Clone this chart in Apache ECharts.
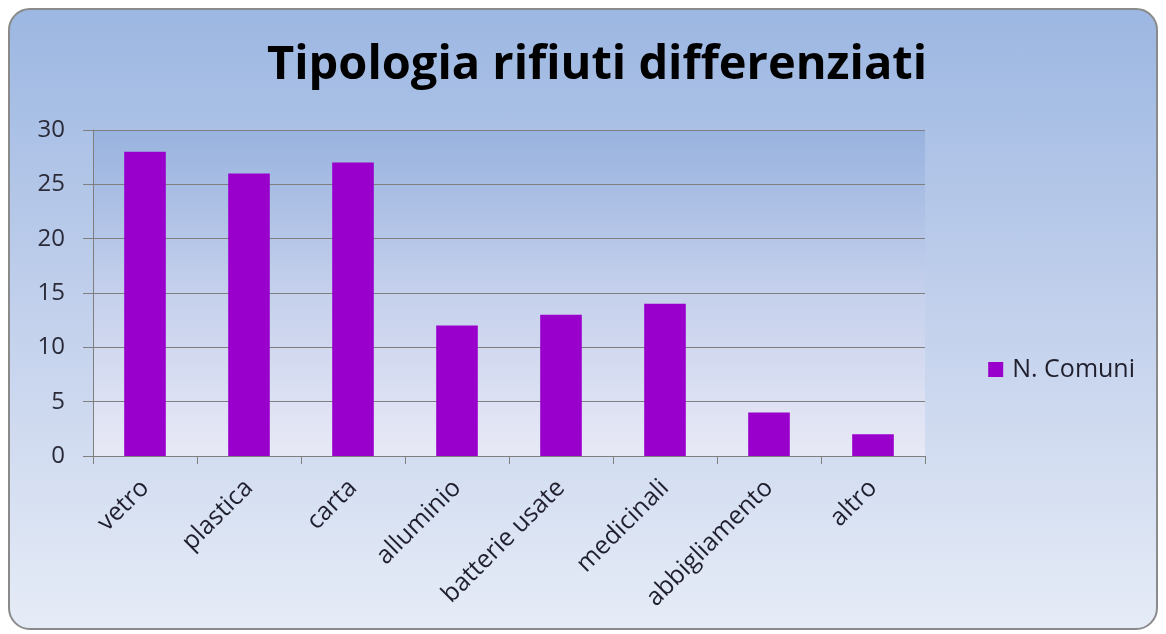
<!DOCTYPE html>
<html>
<head>
<meta charset="utf-8">
<script src="https://cdn.jsdelivr.net/npm/echarts@6/dist/echarts.min.js"></script>
<style>
  html, body { margin: 0; padding: 0; background: #ffffff; }
  #main {
    position: absolute;
    left: 8px; top: 8px;
    width: 1150px; height: 622px;
    box-sizing: border-box;
    border: 2px solid #8a8a8a;
    border-radius: 22px;
    overflow: hidden;
    background: linear-gradient(to bottom, #9cb7e2 0%, #c3d1ec 50%, #e6ecf7 100%);
  }
</style>
</head>
<body>
<div id="main"></div>
<script>
// categorie e valori
const categories = ["vetro", "plastica", "carta", "alluminio", "batterie usate", "medicinali", "abbigliamento", "altro"];
const comuni = [28, 26, 27, 12, 13, 14, 4, 2];
const seriesName = "N. Comuni";
const titleText = "Tipologia rifiuti differenziati";

const chart = echarts.init(document.getElementById("main"));
const font = "'Open Sans', 'Noto Sans', sans-serif";

const option = {
  animation: false,
  title: {
    text: titleText,
    left: 582,
    top: 27,
    textAlign: "center",
    textStyle: { fontFamily: font, fontSize: 47, fontWeight: "bold", color: "#000000" }
  },
  legend: {
    data: [seriesName],
    right: 16,
    top: 342,
    itemWidth: 15,
    itemHeight: 15,
    icon: "rect",
    itemGap: 6,
    textStyle: { fontFamily: font, fontSize: 25, color: "#1f1f2e", padding: [0, 0, 0, 4] }
  },
  grid: {
    left: 83,
    right: 231,
    top: 120,
    bottom: 172,
    show: true,
    borderWidth: 0,
    backgroundColor: new echarts.graphic.LinearGradient(0, 0, 0, 1, [
      { offset: 0, color: "#98b3df" },
      { offset: 0.5, color: "#c5d0ec" },
      { offset: 1, color: "#e8e9f6" }
    ])
  },
  xAxis: {
    type: "category",
    data: categories,
    axisLine: { lineStyle: { color: "#7f7f7f", width: 1 } },
    axisTick: { show: true, length: 8, lineStyle: { color: "#7f7f7f" } },
    axisLabel: {
      rotate: 45,
      margin: 28,
      interval: 0,
      fontFamily: font,
      fontSize: 25,
      color: "#1f1f2e"
    }
  },
  yAxis: {
    type: "value",
    min: 0,
    max: 30,
    interval: 5,
    axisLine: { show: true, lineStyle: { color: "#7f7f7f", width: 1 } },
    axisTick: { show: true, length: 10, lineStyle: { color: "#7f7f7f" } },
    splitLine: { lineStyle: { color: "#7f7f7f", width: 1 } },
    axisLabel: {
      margin: 28,
      fontFamily: font,
      fontSize: 24,
      color: "#2a2a38"
    }
  },
  series: [
    {
      name: seriesName,
      type: "bar",
      data: comuni,
      barWidth: "40%",
      itemStyle: { color: "#9900cc" }
    }
  ]
};

chart.setOption(option);
</script>
</body>
</html>
